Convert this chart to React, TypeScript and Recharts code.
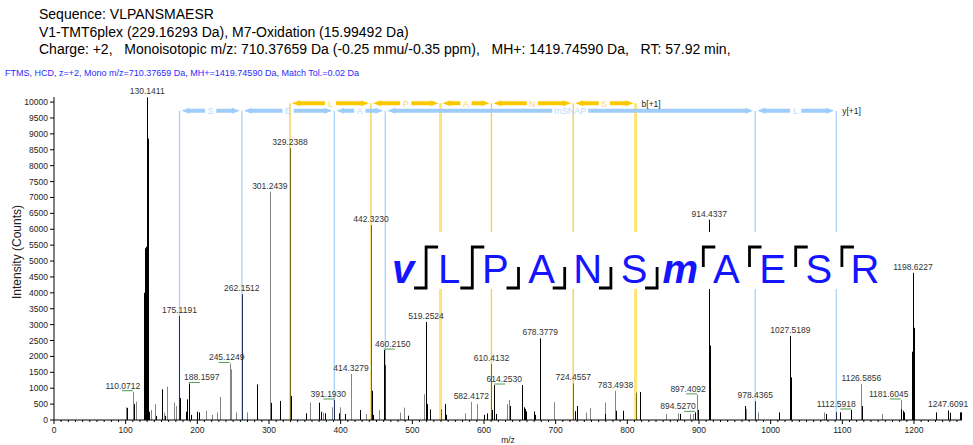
import React from 'react';
import { ComposedChart, Bar, XAxis, YAxis, ReferenceLine, LabelList } from 'recharts';

const W = 973;
const H = 445;
const FONT = '"Liberation Sans", Arial, sans-serif';

// peptide
const sequence = ['v', 'L', 'P', 'A', 'N', 'S', 'm', 'A', 'E', 'S', 'R'];
const modified = [true, false, false, false, false, false, true, false, false, false, false];

// matched fragment ions (m/z)
const bIonNumbers = [1, 2, 3, 4, 5, 6];
const bIons = [329.2388, 442.323, 539.3758, 610.4132, 724.4557, 811.4877];
const bSegLabels = ['L', 'P', 'A', 'N', 'S'];
const yIonNumbers = [1, 2, 3, 4, 9, 10];
const yIons = [175.1191, 262.1512, 391.1938, 462.2309, 978.4365, 1091.5206];
const ySegLabels = ['S', 'E', 'A', 'mSNAP', 'L'];

// [m/z, intensity (counts)]
const blackPeaks: [number, number][] = [
  [101.9, 380], [111.6, 500], [126.13, 4000], [127.12, 5400], [128.13, 5450], [129.13, 5300],
  [130.1411, 10150], [131.14, 8850], [132.6, 260], [142.9, 130], [150.7, 965], [155.4, 130],
  [176.3, 690], [183.7, 260], [186.0, 650], [188.1597, 1150], [191.7, 160], [200.0, 260],
  [202.3, 240], [283.2, 1120], [302.2, 540], [315.9, 600], [330.24, 755],
  [352.2, 210], [369.8, 545], [373.1, 260], [377.7, 210], [397.7, 210], [406.6, 190],
  [426.5, 315], [443.3, 920], [445.1, 160], [460.215, 2200], [494.0, 135],
  [519.2524, 3080], [520.5, 500], [525.2, 335], [546.1, 500], [547.5, 160],
  [600.0, 160], [604.2, 210], [611.7, 315], [614.253, 1100], [616.3, 190],
  [636.8, 440], [653.6, 1100], [655.4, 400], [656.8, 350], [658.2, 270], [669.8, 270], [671.7, 160],
  [678.3779, 2570], [726.5, 280], [729.8, 440], [769.4, 190], [784.7, 290], [794.0, 290],
  [818.2, 880], [873.0, 190], [894.527, 240], [898.6, 315], [914.4337, 6300], [915.44, 2340],
  [964.2, 440], [1011.6, 240], [1027.5189, 2640], [1028.52, 1340], [1077.7, 190],
  [1096.3, 240], [1112.5918, 315], [1127.6, 440], [1182.3, 335], [1184.6, 290], [1186.0, 240],
  [1197.6, 2150], [1198.6227, 4630], [1199.62, 2900], [1200.62, 2300], [1231.2, 240],
  [1247.6091, 300], [1249.6, 230], [1263.8, 240], [1266.0, 240],
];

const grayPeaks: [number, number][] = [
  [100.2, 400], [110.0712, 890], [115.0, 580], [135.9, 315], [140.5, 500], [153.0, 230],
  [158.2, 1050], [167.5, 545], [170.8, 440], [211.7, 290], [221.0, 160], [227.4, 240],
  [231.2, 730], [245.1249, 1780], [247.5, 1590], [254.5, 240], [269.8, 240], [301.2439, 7180],
  [356.8, 545], [375.4, 230], [388.4, 400], [398.6, 400], [414.3279, 1450], [434.9, 190],
  [453.0, 315], [483.3, 230], [488.0, 390], [516.3, 810], [573.0, 210], [582.4172, 570], [590.8, 500],
  [632.1, 500], [634.9, 630], [697.2, 560], [741.9, 230], [747.5, 380], [768.4, 545],
  [783.4938, 920], [854.5, 190], [871.2, 210], [888.0, 190], [891.6, 190], [897.4092, 790],
  [966.1, 350], [982.3, 240], [1074.4, 240], [1126.5856, 1130], [1155.8, 190], [1181.6045, 630],
];

const bIonPeaks: [number, number][] = [
  [329.2388, 8550], [442.323, 6130], [539.38, 335], [610.4132, 1760], [724.4557, 1150], [811.49, 860],
];
const yIonPeaks: [number, number][] = [
  [175.1191, 3270], [262.1512, 3960], [391.193, 630], [462.23, 1730], [978.4365, 590], [1091.52, 250],
];

const labelledMz = [
  110.0712, 130.1411, 175.1191, 188.1597, 245.1249, 262.1512, 301.2439, 329.2388, 391.193,
  414.3279, 442.323, 460.215, 519.2524, 582.4172, 610.4132, 614.253, 678.3779, 724.4557,
  783.4938, 894.527, 897.4092, 914.4337, 978.4365, 1027.5189, 1112.5918, 1126.5856,
  1181.6045, 1198.6227, 1247.6091,
];

const xTicks = Array.from({ length: 127 }, (_, i) => i * 10);
const yTicks = Array.from({ length: 21 }, (_, i) => i * 500);

// label nudges (px) for labels that were moved aside, with a leader underline
const labelShift: Record<string, number> = {
  '110.0712': -10, '188.1597': 13, '245.1249': -3, '391.1930': -6, '460.2150': 9,
  '614.2530': 10, '894.5270': -17, '897.4092': -9, '1112.5918': -15, '1181.6045': -12,
};

const KIND_COLOR: Record<string, string> = { k: '#000000', g: '#858585', b: '#7a6a1c', y: '#1d3461' };
const B_COLOR = '#fcc800';
const B_TEXT = '#fbd968';
const Y_COLOR = '#9fcdfb';
const Y_TEXT = '#b9dbfc';
const B_ROW = 9960;
const Y_ROW = 9730;

const peaks = [
  ...blackPeaks.map(([mz, c]) => ({ mz, c, kind: 'k' })),
  ...grayPeaks.map(([mz, c]) => ({ mz, c, kind: 'g' })),
  ...bIonPeaks.map(([mz, c]) => ({ mz, c, kind: 'b' })),
  ...yIonPeaks.map(([mz, c]) => ({ mz, c, kind: 'y' })),
]
  .sort((a, b) => a.mz - b.mz)
  .map((p) => ({ ...p, label: labelledMz.includes(p.mz) ? p.mz.toFixed(4) : undefined }));

const Stick = (p: any) => {
  const cx = Math.round(p.x + p.width / 2) + 0.5;
  const kind = p.payload?.kind ?? 'k';
  return <line x1={cx} x2={cx} y1={p.y} y2={p.y + p.height} stroke={KIND_COLOR[kind]} strokeWidth={1} />;
};

const PeakLabel = (p: any) => {
  const { x, y, width, value } = p;
  if (!value) return null;
  const cx = Number(x) + Number(width) / 2;
  const dx = labelShift[value] ?? 0;
  const moved = value in labelShift;
  return (
    <g>
      <text x={cx + dx} y={Number(y) - 3} textAnchor="middle" fontSize={8.5} fill="#333">
        {value}
      </text>
      {moved && (
        <line x1={cx} x2={cx + (dx >= 0 ? 11 : -11)} y1={Number(y) - 1} y2={Number(y) - 1} stroke="#4f9a4f" />
      )}
    </g>
  );
};

const MzTick = (p: any) => {
  const { x, y, payload } = p;
  const major = payload.value % 100 === 0;
  return (
    <g>
      <line x1={x} x2={x} y1={y} y2={y + (major ? 4 : 2)} stroke="#000" />
      {major && (
        <text x={x} y={y + 13} textAnchor="middle" fontSize={8.5} fill="#222">
          {payload.value}
        </text>
      )}
    </g>
  );
};

const ArrowSeg = ({ x1, x2, y, text, color, textColor, tail }: any) => {
  const a = x1 + 2;
  const b = x2 - 2;
  const mid = (a + b) / 2;
  const half = (text.length * 6.2 + 5) / 2;
  const gl = mid - half;
  const gr = mid + half;
  const hd = 8;
  const left = `${a},${y} ${a + hd},${y - 3} ${a + hd},${y - 2} ${gl},${y - 2} ${gl},${y + 2} ${a + hd},${y + 2} ${a + hd},${y + 3}`;
  const right = `${b},${y} ${b - hd},${y - 3} ${b - hd},${y - 2} ${gr},${y - 2} ${gr},${y + 2} ${b - hd},${y + 2} ${b - hd},${y + 3}`;
  return (
    <g>
      <polygon points={left} fill={color} />
      <polygon points={right} fill={color} />
      <text x={mid} y={y + 3.3} textAnchor="middle" fontSize={9} fill={textColor}>
        {text}
      </text>
      {tail && (
        <text x={x2 + 6} y={y + 3.3} fontSize={8.5} fill="#222">
          {tail}
        </text>
      )}
    </g>
  );
};

// sequence map overlay
const SEQ_X0 = 403;
const SEQ_STEP = 46.2;
const SEQ_BASE = 283;
const BR_TOP = 247;
const BR_MID = 267;
const BR_BOT = 288;
const ARM = 12;

const SequenceMap = () => {
  const n = sequence.length;
  const bBreaks = bIonNumbers.map((k) => k - 1);
  const yBreaks = yIonNumbers.map((k) => n - k - 1);
  return (
    <g>
      <rect x={388} y={232} width={492} height={57} fill="#fff" />
      {sequence.map((ch, i) => (
        <text
          key={'s' + i}
          x={SEQ_X0 + i * SEQ_STEP}
          y={SEQ_BASE}
          textAnchor="middle"
          fontSize={40}
          fill="#1414ff"
          fontWeight={modified[i] ? 700 : 400}
          fontStyle={modified[i] ? 'italic' : 'normal'}
        >
          {ch}
        </text>
      ))}
      {sequence.slice(0, -1).map((_, i) => {
        const m = SEQ_X0 + (i + 0.5) * SEQ_STEP;
        const hasB = bBreaks.includes(i);
        const hasY = yBreaks.includes(i);
        let d = '';
        if (hasB && hasY) d = `M${m - ARM},${BR_BOT} H${m} V${BR_TOP} H${m + ARM}`;
        else if (hasB) d = `M${m - ARM},${BR_BOT} H${m} V${BR_MID}`;
        else if (hasY) d = `M${m},${BR_MID} V${BR_TOP} H${m + ARM}`;
        return d ? <path key={'br' + i} d={d} fill="none" stroke="#000" strokeWidth={2.8} /> : null;
      })}
    </g>
  );
};

export default function App() {
  return (
    <div style={{ position: 'absolute', left: 0, top: 0, width: W, height: H, background: '#fff', fontFamily: FONT }}>
      <ComposedChart width={W} height={H} data={peaks} margin={{ top: 97, right: 11, bottom: 5, left: 10 }}>
        <XAxis
          type="number"
          dataKey="mz"
          domain={[0, 1267]}
          ticks={xTicks}
          interval={0}
          tickSize={0}
          tickMargin={0}
          tickLine={false}
          tick={(p: any) => <MzTick {...p} />}
          axisLine={{ stroke: '#000' }}
          height={20}
          allowDataOverflow
        />
        <YAxis
          type="number"
          domain={[0, 10160]}
          ticks={yTicks}
          interval={0}
          width={44}
          tickSize={4}
          tickMargin={2}
          tick={{ fontSize: 8.5, fill: '#222' }}
          tickLine={{ stroke: '#000' }}
          axisLine={{ stroke: '#000' }}
          allowDataOverflow
        />
        {bIons.map((mz, i) => {
          const plain = !labelledMz.some((l) => Math.abs(l - mz) < 0.05);
          return (
            <ReferenceLine
              key={'bl' + i}
              segment={[{ x: mz, y: 0 }, { x: mz, y: B_ROW }]}
              stroke={plain ? '#ffe47a' : '#f6cd45'}
              strokeWidth={plain ? 3 : 1.3}
              ifOverflow="visible"
              zIndex={100}
            />
          );
        })}
        {yIons.map((mz, i) => (
          <ReferenceLine
            key={'yl' + i}
            segment={[{ x: mz, y: 0 }, { x: mz, y: Y_ROW }]}
            stroke="#a9d2f7"
            strokeWidth={1.3}
            ifOverflow="visible"
            zIndex={100}
          />
        ))}
        {bSegLabels.map((t, i) => (
          <ReferenceLine
            key={'bs' + i}
            segment={[{ x: bIons[i], y: B_ROW }, { x: bIons[i + 1], y: B_ROW }]}
            ifOverflow="visible"
            shape={(p: any) => (
              <ArrowSeg
                x1={p.x1}
                x2={p.x2}
                y={p.y1}
                text={t}
                color={B_COLOR}
                textColor={B_TEXT}
                tail={i === bSegLabels.length - 1 ? 'b[+1]' : undefined}
              />
            )}
          />
        ))}
        {ySegLabels.map((t, i) => (
          <ReferenceLine
            key={'ys' + i}
            segment={[{ x: yIons[i], y: Y_ROW }, { x: yIons[i + 1], y: Y_ROW }]}
            ifOverflow="visible"
            shape={(p: any) => (
              <ArrowSeg
                x1={p.x1}
                x2={p.x2}
                y={p.y1}
                text={t}
                color={Y_COLOR}
                textColor={Y_TEXT}
                tail={i === ySegLabels.length - 1 ? 'y[+1]' : undefined}
              />
            )}
          />
        ))}
        <Bar dataKey="c" barSize={1} shape={(p: any) => <Stick {...p} />} isAnimationActive={false} zIndex={450}>
          <LabelList dataKey="label" content={(p: any) => <PeakLabel {...p} />} />
        </Bar>
      </ComposedChart>
      <svg width={W} height={H} style={{ position: 'absolute', left: 0, top: 0, pointerEvents: 'none' }}>
        <text x={39} y={19} fontSize={14} fill="#000">Sequence: VLPANSMAESR</text>
        <text x={39} y={36.5} fontSize={14} fill="#000">V1-TMT6plex (229.16293 Da), M7-Oxidation (15.99492 Da)</text>
        <text x={39} y={54} fontSize={14} fill="#000" style={{ whiteSpace: 'pre' }}>
          {'Charge: +2,   Monoisotopic m/z: 710.37659 Da (-0.25 mmu/-0.35 ppm),   MH+: 1419.74590 Da,   RT: 57.92 min,'}
        </text>
        <text x={5} y={76} fontSize={9} fill="#2b2bff">
          FTMS, HCD, z=+2, Mono m/z=710.37659 Da, MH+=1419.74590 Da, Match Tol.=0.02 Da
        </text>
        <text x={21} y={252} fontSize={12} fill="#222" textAnchor="middle" transform="rotate(-90 21 252)">
          Intensity (Counts)
        </text>
        <text x={508} y={443} fontSize={8.5} fill="#222" textAnchor="middle">m/z</text>
        <SequenceMap />
      </svg>
    </div>
  );
}
